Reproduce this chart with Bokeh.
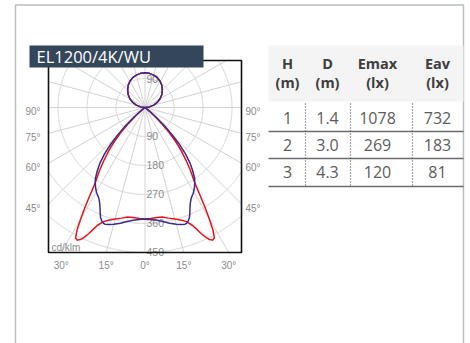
import numpy as np
from bokeh.plotting import figure
from bokeh.models import Range1d
from bokeh.embed import file_html
from bokeh.resources import INLINE
from bokeh.core.properties import value

# ---------------- data ----------------
title_text = "EL1200/4K/WU"

# C0-C180 plane (red), gamma from nadir in degrees, intensity in cd/klm
red_gamma = [0, 3, 6, 9, 12, 15, 18, 20, 22, 23, 24, 25, 26, 27, 28, 29, 30, 31, 32, 33,
             34, 36, 38, 40, 42, 44, 46, 48, 50, 52, 55, 90]
red_cd = [346, 345, 343, 344, 351, 358, 368, 377, 395, 410, 428, 443, 456, 462, 459, 435, 398, 362, 325, 292,
          270, 238, 205, 174, 142, 108, 72, 42, 18, 6, 0, 0]

# C90-C270 plane (blue)
blue_gamma = [0, 3, 6, 9, 12, 15, 17, 19, 20, 21, 22, 23, 24, 25, 26, 27, 28, 29, 30, 31, 32, 33,
              34, 35, 37, 39, 41, 43, 45, 47, 49, 51, 53, 56, 90]
blue_cd = [346, 348, 352, 358, 367, 375, 380, 383, 381, 376, 368, 356, 343, 332, 323, 316, 311, 307, 302, 296, 290, 283,
           276, 268, 246, 222, 192, 157, 118, 80, 45, 20, 6, 0, 0]

# upper hemisphere (both planes)
up_gamma = [97.5, 105, 112.5, 120, 127.5, 135, 142.5, 150, 157.5, 165, 172.5, 180]
up_cd = [14, 28, 41, 54, 66, 76, 86, 94, 100, 104, 107, 108]

ring_values = [90, 180, 270, 360, 450]
ring_labels = ["90", "180", "270", "360", "450"]
side_angles = [90, 75, 60, 45]
side_labels = ["90°", "75°", "60°", "45°"]
bottom_angles = [-30, -15, 0, 15, 30]
bottom_labels = ["30°", "15°", "0°", "15°", "30°"]
unit_label = "cd/klm"

hdr1 = ["H", "D", "Emax", "Eav"]
hdr2 = ["(m)", "(m)", "(lx)", "(lx)"]
col_h = ["1", "2", "3"]
col_d = ["1.4", "3.0", "4.3"]
col_emax = ["1078", "269", "120"]
col_eav = ["732", "183", "81"]

# ---------------- layout ----------------
OX, OY = 0, 0        # page position of the canvas
W, H = 470, 343
K = 0.3222           # px per cd/klm
CX, CY = 144.5, 107  # polar centre (page px)


def dx(xp):
    return (xp - CX) / K


def dy(yp):
    return (CY - yp) / K


p = figure(width=W, height=H, output_backend="svg", toolbar_location=None,
           x_range=Range1d(dx(OX), dx(OX + W)), y_range=Range1d(dy(OY + H), dy(OY)),
           min_border=0)
p.axis.visible = False
p.grid.visible = False
p.outline_line_color = None
p.background_fill_color = "white"

FL, FR, FT, FB = dx(48), dx(241), dy(60), dy(252)

# outer light border
p.line([dx(15), dx(15), dx(463), dx(463)], [dy(400), dy(4.5), dy(4.5), dy(400)],
       line_color="#b9bec3", line_width=1.5)

# polar grid: rings
grid_col = "#d3d3d3"
phi = np.linspace(0, 2 * np.pi, 1441)
for R in range(90, 721, 90):
    xs = R * np.cos(phi)
    ys = R * np.sin(phi)
    m = (xs < FL) | (xs > FR) | (ys > FT) | (ys < FB)
    xs = np.where(m, np.nan, xs)
    ys = np.where(m, np.nan, ys)
    p.line(xs, ys, line_color=grid_col, line_width=1)

# polar grid: rays every 15 deg
rx, ry = [], []
for a in range(0, 360, 15):
    sx, sy = np.sin(np.radians(a)), -np.cos(np.radians(a))
    t = np.inf
    if sx > 1e-9:
        t = min(t, FR / sx)
    if sx < -1e-9:
        t = min(t, FL / sx)
    if sy > 1e-9:
        t = min(t, FT / sy)
    if sy < -1e-9:
        t = min(t, FB / sy)
    rx.append([0, t * sx])
    ry.append([0, t * sy])
p.multi_line(rx, ry, line_color=grid_col, line_width=1)

# ring labels
lab_col = "#8c8c8c"
p.text(x=[dx(146)] * len(ring_values), y=[-v for v in ring_values], text=ring_labels,
       text_font=value("Liberation Sans"), text_font_size="10.5px", text_color=lab_col,
       text_align="left", text_baseline="alphabetic", y_offset=0)
p.text(x=[dx(146)], y=[ring_values[0]], text=[ring_labels[0]],
       text_font=value("Liberation Sans"), text_font_size="10.5px", text_color=lab_col,
       text_align="left", text_baseline="alphabetic")


# photometric curves
def curve(gam, cd):
    g = np.radians(np.array(list(gam) + up_gamma, dtype=float))
    r = np.array(list(cd) + up_cd, dtype=float)
    xr, yr = r * np.sin(g), -r * np.cos(g)
    xs = np.concatenate([-xr[::-1], xr[1:]])
    ys = np.concatenate([yr[::-1], yr[1:]])
    return xs, ys


xs, ys = curve(red_gamma, red_cd)
p.line(xs, ys, line_color="#e8121c", line_width=1.5, line_join="round")
xs, ys = curve(blue_gamma, blue_cd)
p.line(xs, ys, line_color="#3b2a8e", line_width=1.5, line_join="round")

# frame
p.line([FL, FL, FR, FR, FL], [FT, FB, FB, FT, FT], line_color="#111111", line_width=1.6)

# side angle labels
side_y = [FL / np.tan(np.radians(a)) if a != 90 else 0 for a in side_angles]
p.text(x=[dx(40)] * 4, y=side_y, text=side_labels, text_font=value("Liberation Sans"),
       text_font_size="10px", text_color=lab_col, text_align="right", text_baseline="middle", y_offset=4)
p.text(x=[dx(245)] * 4, y=side_y, text=side_labels, text_font=value("Liberation Sans"),
       text_font_size="10px", text_color=lab_col, text_align="left", text_baseline="middle", y_offset=4)
bx = [-FB * np.tan(np.radians(a)) for a in bottom_angles]
p.text(x=bx, y=[dy(265)] * 5, text=bottom_labels, text_font=value("Liberation Sans"),
       text_font_size="10px", text_color=lab_col, text_align="center", text_baseline="middle")
p.text(x=[dx(51)], y=[dy(252)], text=[unit_label], text_font=value("Liberation Sans"),
       text_font_size="10px", text_color=lab_col, text_align="left", text_baseline="bottom")

# title box
p.quad(left=[dx(29)], right=[dx(203)], top=[dy(45)], bottom=[dy(67)], fill_color="#34475a", line_color=None)
p.text(x=[dx(36)], y=[dy(56)], text=[title_text], text_font=value("Open Sans"), text_font_size="16.5px",
       text_color="white", text_align="left", text_baseline="middle")

# table
col_x = [dx(287), dx(327), dx(377), dx(437)]
p.quad(left=[dx(268)], right=[dx(463)], top=[dy(45)], bottom=[dy(101)], fill_color="#f4f4f4", line_color=None)
p.text(x=col_x, y=[dy(63)] * 4, text=hdr1, text_font=value("Open Sans"), text_font_size="14.5px",
       text_font_style="bold", text_color="#3e3e3e", text_align="center", text_baseline="middle")
p.text(x=col_x, y=[dy(82)] * 4, text=hdr2, text_font=value("Open Sans"), text_font_size="14.5px",
       text_font_style="bold", text_color="#3e3e3e", text_align="center", text_baseline="middle")
row_y = [dy(117), dy(144), dy(171)]
for cx, col in zip(col_x, [col_h, col_d, col_emax, col_eav]):
    p.text(x=[cx] * 3, y=row_y, text=col, text_font=value("Open Sans"), text_font_size="16px",
           text_color="#5c5c5c", text_align="center", text_baseline="middle")
p.segment(x0=[dx(268)] * 3, x1=[dx(463)] * 3, y0=[dy(131), dy(158), dy(186)], y1=[dy(131), dy(158), dy(186)],
          line_color="#6b6b6b", line_width=1.5)
p.segment(x0=[dx(305), dx(350), dx(412)], x1=[dx(305), dx(350), dx(412)], y0=[dy(103)] * 3, y1=[dy(186)] * 3,
          line_color="#555555", line_width=1.2, line_dash="1 2")

open("out.html", "w").write(file_html(p, INLINE))
